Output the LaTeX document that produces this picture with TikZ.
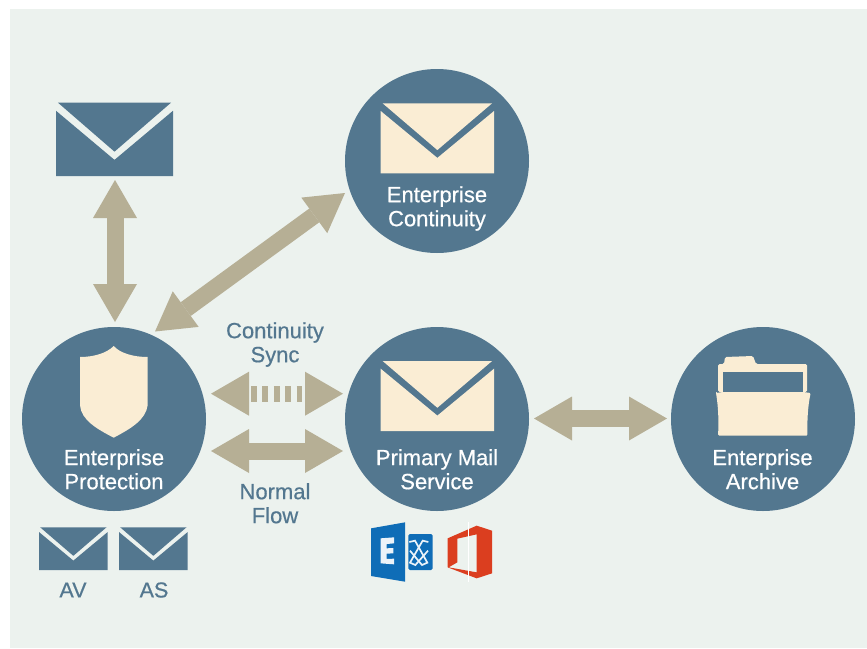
\documentclass[tikz,border=0pt]{standalone}
\usepackage{fontspec}
\setmainfont{Liberation Sans}[BoldFont=Liberation Sans,BoldFeatures={FakeBold=0.6}]
\usetikzlibrary{arrows.meta}
\definecolor{slateblue}{HTML}{53778F}
\definecolor{tan}{HTML}{B6AF95}
\definecolor{pagebg}{HTML}{ECF2EE}
\definecolor{cream}{HTML}{FAEDD4}
\definecolor{exblue}{HTML}{0F6DB7}
\definecolor{offred}{HTML}{DB3E1F}
\tikzset{
  hub/.style={circle,fill=slateblue,draw=none,minimum size=184pt,inner sep=0pt},
  hublabel/.style={text=white,align=center,font=\fontsize{22}{24}\selectfont\bfseries,inner sep=0pt},
  flowlabel/.style={text=slateblue,align=center,font=\fontsize{22}{24}\selectfont\bfseries,inner sep=0pt},
  smalllabel/.style={text=slateblue,font=\fontsize{21.5}{24}\selectfont\bfseries,inner sep=0pt},
  blockarrow/.style={draw=tan,line width=17pt,{Triangle[length=38pt,width=44pt,line width=0pt]}-{Triangle[length=38pt,width=44pt,line width=0pt]}},
  syncheads/.style={blockarrow,dash pattern=on 0pt off 1000pt},
  syncbars/.style={draw=tan,line width=16pt,dash pattern=on 5.7pt off 5.7pt},
}
\newcommand{\envelopeicon}[5]{%
  \begin{scope}[shift={(#1,#2)},xscale=#3,yscale=#4]
    \fill[#5] (0,.11) -- (.5,.78) -- (1,.11) -- (1,1) -- (0,1) -- cycle;
    \fill[#5] (.017,0) -- (.983,0) -- (.5,.668) -- cycle;
  \end{scope}}
\begin{document}
\begin{tikzpicture}[x=1pt,y=-1pt]
\useasboundingbox (0,0) rectangle (867,648);
\fill[pagebg] (10,9) rectangle (867,648);

% hubs
\node[hub] (prot) at (114,419) {};
\node[hub] (cont) at (437,161) {};
\node[hub] (prim) at (437,419) {};
\node[hub] (arch) at (763,419) {};

% labels
\node[hublabel] (protl) at (114,469.3) {Enterprise\\Protection};
\node[hublabel] (contl) at (437,208.5) {Enterprise\\Continuity};
\node[hublabel] (priml) at (437,469.3) {Primary Mail\\Service};
\node[hublabel] (archl) at (762.5,469.3) {Enterprise\\Archive};
\node[flowlabel] (syncl) at (275,344.5) {Continuity\\Sync};
\node[flowlabel] (flowl) at (275,503.3) {Normal\\Flow};
\node[smalllabel] (avl) at (73,590) {AV};
\node[smalllabel] (asl) at (154,590) {AS};

% connector ends
\coordinate (upT) at (115,180);
\coordinate (upB) at (115,322);
\coordinate (diagA) at (155,331.5);
\coordinate (diagB) at (345,193);
\coordinate (syncA) at (211,393.7);
\coordinate (syncB) at (343,393.7);
\coordinate (syncC) at (251,393.7);
\coordinate (syncD) at (302.5,393.7);
\coordinate (flowA) at (211,451);
\coordinate (flowB) at (343,451);
\coordinate (archA) at (534,418.5);
\coordinate (archB) at (667,418.5);

\draw[blockarrow] (upT) -- (upB);
\draw[blockarrow] (diagA) -- (diagB);
\draw[syncheads] (syncA) -- (syncB);
\draw[syncbars] (syncC) -- (syncD);
\draw[blockarrow] (flowA) -- (flowB);
\draw[blockarrow] (archA) -- (archB);

% envelopes
\envelopeicon{56}{102.7}{117}{73.3}{slateblue}
\envelopeicon{380.7}{103.3}{113.3}{70}{cream}
\envelopeicon{380.7}{361}{113.3}{70}{cream}
\envelopeicon{39}{527.3}{68.7}{42.7}{slateblue}
\envelopeicon{119}{527.3}{68.7}{42.7}{slateblue}

% shield
\fill[cream] (80,357) .. controls (94,357) and (107,353) .. (113.7,346)
  .. controls (120,353) and (133,357) .. (147.7,357)
  -- (147.7,405) .. controls (146,420) and (130,429) .. (113.7,437.7)
  .. controls (97,429) and (81,420) .. (80,405) -- cycle;

% folder
\fill[cream,rounded corners=1.5pt] (718,392) -- (718,364) -- (724,364) -- (725,357) -- (753,356) -- (756,364) -- (807,364) -- (807,392) -- cycle;
\fill[slateblue] (723,372) rectangle (803,392);
\fill[cream,rounded corners=1.2pt] (716,393) -- (723,392) -- (803,392) -- (810.7,393)
  .. controls (808,405) and (807,420) .. (807.5,435.7)
  -- (718,435.7) .. controls (719,420) and (718,405) .. (716,393) -- cycle;

% product logos
\begin{scope}[shift={(360,510)},x=.333333pt,y=-.333333pt]
  \fill[exblue] (33,55) -- (135,37) -- (135,215) -- (33,198) -- cycle;
  \fill[white!92!exblue] (62,85) -- (102,82) -- (102,100) -- (80,102) -- (80,115) -- (100,114) -- (100,130) -- (80,131) -- (80,147) -- (102,146) -- (102,163) -- (62,160) -- cycle;
  \fill[exblue,rounded corners=1.5pt] (145,72) -- (218,72) -- (218,180) -- (145,180) -- cycle;
  \draw[white!92!exblue,line width=1.7pt] (148,96) -- (165,92) -- (202,158) -- (186,165) -- (150,122);
  \draw[white!92!exblue,line width=1.7pt] (205,96) -- (188,92) -- (150,158) -- (166,165) -- (204,122);
  \fill[offred,even odd rule] (263,85) -- (350,47) -- (396,62) -- (396,190) -- (350,205) -- (263,172) -- cycle
    (292,86) -- (350,73) -- (350,187) -- (266,172) -- (292,157) -- cycle;
  \draw[white,line width=.7pt] (325,36) -- (325,215);
\end{scope}
\end{tikzpicture}
\end{document}
